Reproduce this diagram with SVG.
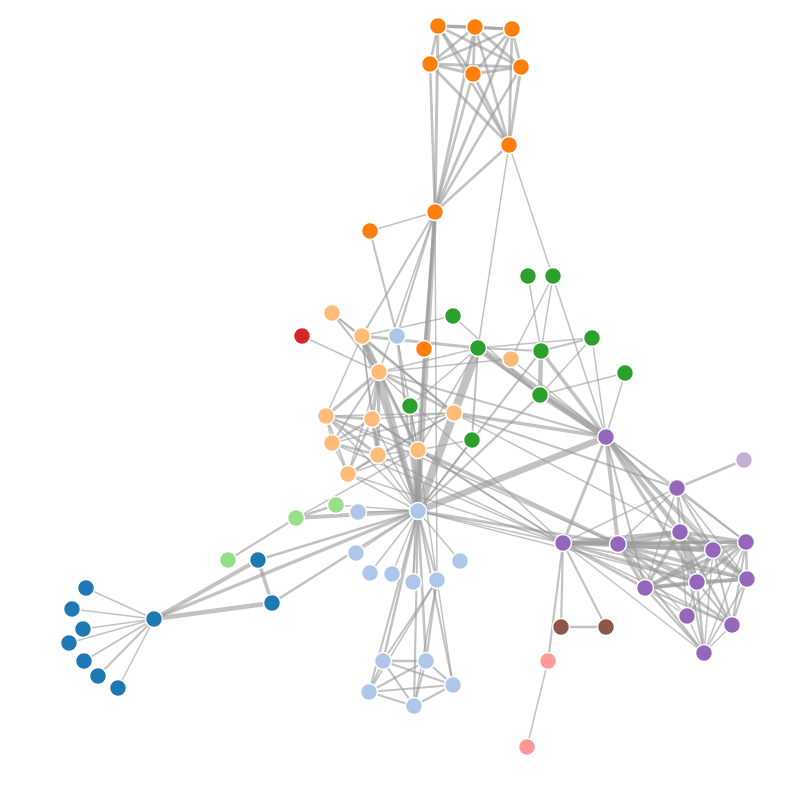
<svg xmlns="http://www.w3.org/2000/svg" width="800" height="800" viewBox="0 0 800 800">
<style>
#links line{stroke:#999;stroke-opacity:.6;stroke-linecap:butt}
.e1{stroke-width:1.5}.e2{stroke-width:2.12}.e3{stroke-width:2.6}.e4{stroke-width:3}.e5{stroke-width:3.35}.e6{stroke-width:3.67}.e7{stroke-width:3.97}.e8{stroke-width:4.24}.e9{stroke-width:4.5}.e10{stroke-width:4.74}.e12{stroke-width:5.2}.e13{stroke-width:5.41}.e15{stroke-width:5.81}.e17{stroke-width:6.18}.e19{stroke-width:6.54}.e21{stroke-width:6.87}.e31{stroke-width:8.35}
#nodes circle{stroke:#fff;stroke-width:1.5}
.g0{fill:#98df8a}.g1{fill:#1f77b4}.g2{fill:#aec7e8}.g3{fill:#ff7f0e}.g4{fill:#ffbb78}.g5{fill:#2ca02c}.g6{fill:#d62728}.g7{fill:#ff9896}.g8{fill:#9467bd}.g9{fill:#c5b0d5}.g10{fill:#8c564b}
</style>
<rect width="800" height="800" fill="#fff"/>
<g id="links">
<line class="e1" x1="86" y1="588" x2="154" y2="619"/>
<line class="e8" x1="258" y1="560" x2="154" y2="619"/>
<line class="e10" x1="272" y1="603" x2="154" y2="619"/>
<line class="e6" x1="272" y1="603" x2="258" y2="560"/>
<line class="e1" x1="72" y1="609" x2="154" y2="619"/>
<line class="e1" x1="83" y1="629" x2="154" y2="619"/>
<line class="e1" x1="69" y1="643" x2="154" y2="619"/>
<line class="e1" x1="84" y1="661" x2="154" y2="619"/>
<line class="e2" x1="98" y1="676" x2="154" y2="619"/>
<line class="e1" x1="118" y1="688" x2="154" y2="619"/>
<line class="e1" x1="418" y1="511" x2="358" y2="512"/>
<line class="e3" x1="418" y1="511" x2="272" y2="603"/>
<line class="e3" x1="418" y1="511" x2="258" y2="560"/>
<line class="e5" x1="418" y1="511" x2="154" y2="619"/>
<line class="e1" x1="424" y1="349" x2="418" y2="511"/>
<line class="e1" x1="356" y1="553" x2="418" y2="511"/>
<line class="e1" x1="370" y1="573" x2="418" y2="511"/>
<line class="e1" x1="392" y1="574" x2="418" y2="511"/>
<line class="e4" x1="430" y1="64" x2="509" y2="145"/>
<line class="e4" x1="473" y1="74" x2="509" y2="145"/>
<line class="e4" x1="473" y1="74" x2="430" y2="64"/>
<line class="e4" x1="521" y1="67" x2="509" y2="145"/>
<line class="e4" x1="521" y1="67" x2="430" y2="64"/>
<line class="e4" x1="521" y1="67" x2="473" y2="74"/>
<line class="e3" x1="475" y1="27" x2="509" y2="145"/>
<line class="e3" x1="475" y1="27" x2="430" y2="64"/>
<line class="e3" x1="475" y1="27" x2="473" y2="74"/>
<line class="e4" x1="475" y1="27" x2="521" y2="67"/>
<line class="e3" x1="438" y1="26" x2="430" y2="64"/>
<line class="e3" x1="438" y1="26" x2="473" y2="74"/>
<line class="e3" x1="438" y1="26" x2="521" y2="67"/>
<line class="e5" x1="438" y1="26" x2="475" y2="27"/>
<line class="e3" x1="438" y1="26" x2="509" y2="145"/>
<line class="e3" x1="512" y1="29" x2="430" y2="64"/>
<line class="e3" x1="512" y1="29" x2="473" y2="74"/>
<line class="e3" x1="512" y1="29" x2="521" y2="67"/>
<line class="e4" x1="512" y1="29" x2="475" y2="27"/>
<line class="e4" x1="512" y1="29" x2="438" y2="26"/>
<line class="e3" x1="512" y1="29" x2="509" y2="145"/>
<line class="e3" x1="435" y1="212" x2="430" y2="64"/>
<line class="e3" x1="435" y1="212" x2="473" y2="74"/>
<line class="e3" x1="435" y1="212" x2="521" y2="67"/>
<line class="e4" x1="435" y1="212" x2="475" y2="27"/>
<line class="e4" x1="435" y1="212" x2="438" y2="26"/>
<line class="e4" x1="435" y1="212" x2="512" y2="29"/>
<line class="e2" x1="435" y1="212" x2="424" y2="349"/>
<line class="e3" x1="435" y1="212" x2="509" y2="145"/>
<line class="e9" x1="435" y1="212" x2="418" y2="511"/>
<line class="e2" x1="362" y1="336" x2="435" y2="212"/>
<line class="e7" x1="362" y1="336" x2="418" y2="511"/>
<line class="e13" x1="379" y1="372" x2="362" y2="336"/>
<line class="e1" x1="379" y1="372" x2="435" y2="212"/>
<line class="e12" x1="379" y1="372" x2="418" y2="511"/>
<line class="e4" x1="478" y1="348" x2="362" y2="336"/>
<line class="e31" x1="478" y1="348" x2="418" y2="511"/>
<line class="e1" x1="478" y1="348" x2="509" y2="145"/>
<line class="e1" x1="478" y1="348" x2="379" y2="372"/>
<line class="e17" x1="418" y1="450" x2="418" y2="511"/>
<line class="e5" x1="418" y1="450" x2="435" y2="212"/>
<line class="e5" x1="418" y1="450" x2="379" y2="372"/>
<line class="e1" x1="418" y1="450" x2="362" y2="336"/>
<line class="e1" x1="418" y1="450" x2="478" y2="348"/>
<line class="e8" x1="296" y1="518" x2="418" y2="511"/>
<line class="e1" x1="296" y1="518" x2="418" y2="450"/>
<line class="e1" x1="437" y1="580" x2="435" y2="212"/>
<line class="e1" x1="437" y1="580" x2="418" y2="450"/>
<line class="e2" x1="437" y1="580" x2="418" y2="511"/>
<line class="e1" x1="370" y1="231" x2="435" y2="212"/>
<line class="e2" x1="397" y1="336" x2="370" y2="231"/>
<line class="e3" x1="397" y1="336" x2="418" y2="511"/>
<line class="e2" x1="397" y1="336" x2="435" y2="212"/>
<line class="e1" x1="397" y1="336" x2="418" y2="450"/>
<line class="e1" x1="460" y1="561" x2="418" y2="511"/>
<line class="e2" x1="413" y1="582" x2="418" y2="511"/>
<line class="e1" x1="413" y1="582" x2="418" y2="450"/>
<line class="e3" x1="383" y1="661" x2="418" y2="511"/>
<line class="e2" x1="383" y1="661" x2="437" y2="580"/>
<line class="e3" x1="426" y1="661" x2="418" y2="511"/>
<line class="e3" x1="426" y1="661" x2="383" y2="661"/>
<line class="e2" x1="426" y1="661" x2="437" y2="580"/>
<line class="e2" x1="453" y1="685" x2="383" y2="661"/>
<line class="e2" x1="453" y1="685" x2="426" y2="661"/>
<line class="e2" x1="453" y1="685" x2="418" y2="511"/>
<line class="e1" x1="453" y1="685" x2="437" y2="580"/>
<line class="e2" x1="369" y1="692" x2="383" y2="661"/>
<line class="e2" x1="369" y1="692" x2="426" y2="661"/>
<line class="e2" x1="369" y1="692" x2="453" y2="685"/>
<line class="e2" x1="369" y1="692" x2="418" y2="511"/>
<line class="e1" x1="369" y1="692" x2="437" y2="580"/>
<line class="e2" x1="414" y1="706" x2="383" y2="661"/>
<line class="e2" x1="414" y1="706" x2="426" y2="661"/>
<line class="e2" x1="414" y1="706" x2="453" y2="685"/>
<line class="e2" x1="414" y1="706" x2="369" y2="692"/>
<line class="e2" x1="414" y1="706" x2="418" y2="511"/>
<line class="e1" x1="414" y1="706" x2="437" y2="580"/>
<line class="e1" x1="511" y1="359" x2="379" y2="372"/>
<line class="e1" x1="302" y1="336" x2="379" y2="372"/>
<line class="e2" x1="454" y1="413" x2="362" y2="336"/>
<line class="e3" x1="454" y1="413" x2="379" y2="372"/>
<line class="e2" x1="332" y1="313" x2="454" y2="413"/>
<line class="e2" x1="332" y1="313" x2="379" y2="372"/>
<line class="e1" x1="332" y1="313" x2="362" y2="336"/>
<line class="e3" x1="410" y1="406" x2="418" y2="511"/>
<line class="e1" x1="410" y1="406" x2="478" y2="348"/>
<line class="e1" x1="410" y1="406" x2="418" y2="450"/>
<line class="e3" x1="336" y1="505" x2="296" y2="518"/>
<line class="e1" x1="336" y1="505" x2="418" y2="511"/>
<line class="e2" x1="228" y1="560" x2="296" y2="518"/>
<line class="e1" x1="548" y1="661" x2="527" y2="747"/>
<line class="e2" x1="563" y1="543" x2="548" y2="661"/>
<line class="e1" x1="563" y1="543" x2="379" y2="372"/>
<line class="e1" x1="563" y1="543" x2="418" y2="450"/>
<line class="e1" x1="563" y1="543" x2="418" y2="511"/>
<line class="e3" x1="540" y1="395" x2="478" y2="348"/>
<line class="e2" x1="540" y1="395" x2="418" y2="511"/>
<line class="e1" x1="453" y1="316" x2="540" y2="395"/>
<line class="e1" x1="453" y1="316" x2="362" y2="336"/>
<line class="e9" x1="541" y1="351" x2="540" y2="395"/>
<line class="e2" x1="541" y1="351" x2="478" y2="348"/>
<line class="e2" x1="541" y1="351" x2="418" y2="511"/>
<line class="e1" x1="553" y1="276" x2="541" y2="351"/>
<line class="e1" x1="553" y1="276" x2="511" y2="359"/>
<line class="e1" x1="528" y1="276" x2="541" y2="351"/>
<line class="e2" x1="592" y1="338" x2="541" y2="351"/>
<line class="e1" x1="592" y1="338" x2="540" y2="395"/>
<line class="e1" x1="592" y1="338" x2="478" y2="348"/>
<line class="e6" x1="606" y1="437" x2="541" y2="351"/>
<line class="e12" x1="606" y1="437" x2="540" y2="395"/>
<line class="e1" x1="606" y1="437" x2="511" y2="359"/>
<line class="e1" x1="606" y1="437" x2="592" y2="338"/>
<line class="e21" x1="606" y1="437" x2="478" y2="348"/>
<line class="e19" x1="606" y1="437" x2="418" y2="511"/>
<line class="e1" x1="606" y1="437" x2="509" y2="145"/>
<line class="e2" x1="606" y1="437" x2="379" y2="372"/>
<line class="e5" x1="606" y1="437" x2="454" y2="413"/>
<line class="e4" x1="606" y1="437" x2="563" y2="543"/>
<line class="e1" x1="625" y1="373" x2="540" y2="395"/>
<line class="e1" x1="625" y1="373" x2="606" y2="437"/>
<line class="e1" x1="677" y1="488" x2="606" y2="437"/>
<line class="e2" x1="677" y1="488" x2="454" y2="413"/>
<line class="e1" x1="677" y1="488" x2="563" y2="543"/>
<line class="e7" x1="618" y1="544" x2="606" y2="437"/>
<line class="e7" x1="618" y1="544" x2="563" y2="543"/>
<line class="e6" x1="618" y1="544" x2="418" y2="450"/>
<line class="e1" x1="618" y1="544" x2="677" y2="488"/>
<line class="e4" x1="618" y1="544" x2="418" y2="511"/>
<line class="e15" x1="713" y1="550" x2="618" y2="544"/>
<line class="e5" x1="713" y1="550" x2="606" y2="437"/>
<line class="e6" x1="713" y1="550" x2="563" y2="543"/>
<line class="e2" x1="713" y1="550" x2="677" y2="488"/>
<line class="e1" x1="732" y1="625" x2="563" y2="543"/>
<line class="e4" x1="732" y1="625" x2="618" y2="544"/>
<line class="e2" x1="732" y1="625" x2="713" y2="550"/>
<line class="e2" x1="747" y1="579" x2="563" y2="543"/>
<line class="e6" x1="747" y1="579" x2="618" y2="544"/>
<line class="e2" x1="747" y1="579" x2="732" y2="625"/>
<line class="e5" x1="747" y1="579" x2="713" y2="550"/>
<line class="e1" x1="747" y1="579" x2="677" y2="488"/>
<line class="e1" x1="747" y1="579" x2="606" y2="437"/>
<line class="e9" x1="680" y1="532" x2="606" y2="437"/>
<line class="e17" x1="680" y1="532" x2="618" y2="544"/>
<line class="e13" x1="680" y1="532" x2="713" y2="550"/>
<line class="e7" x1="680" y1="532" x2="563" y2="543"/>
<line class="e2" x1="680" y1="532" x2="677" y2="488"/>
<line class="e1" x1="680" y1="532" x2="454" y2="413"/>
<line class="e6" x1="680" y1="532" x2="747" y2="579"/>
<line class="e3" x1="680" y1="532" x2="732" y2="625"/>
<line class="e5" x1="746" y1="542" x2="713" y2="550"/>
<line class="e5" x1="746" y1="542" x2="563" y2="543"/>
<line class="e6" x1="746" y1="542" x2="680" y2="532"/>
<line class="e2" x1="746" y1="542" x2="677" y2="488"/>
<line class="e4" x1="746" y1="542" x2="618" y2="544"/>
<line class="e3" x1="746" y1="542" x2="747" y2="579"/>
<line class="e2" x1="746" y1="542" x2="732" y2="625"/>
<line class="e1" x1="746" y1="542" x2="606" y2="437"/>
<line class="e5" x1="697" y1="582" x2="606" y2="437"/>
<line class="e12" x1="697" y1="582" x2="680" y2="532"/>
<line class="e5" x1="697" y1="582" x2="563" y2="543"/>
<line class="e4" x1="697" y1="582" x2="746" y2="542"/>
<line class="e10" x1="697" y1="582" x2="618" y2="544"/>
<line class="e6" x1="697" y1="582" x2="747" y2="579"/>
<line class="e2" x1="697" y1="582" x2="732" y2="625"/>
<line class="e9" x1="697" y1="582" x2="713" y2="550"/>
<line class="e1" x1="697" y1="582" x2="677" y2="488"/>
<line class="e1" x1="697" y1="582" x2="418" y2="511"/>
<line class="e5" x1="645" y1="588" x2="746" y2="542"/>
<line class="e7" x1="645" y1="588" x2="697" y2="582"/>
<line class="e3" x1="645" y1="588" x2="563" y2="543"/>
<line class="e5" x1="645" y1="588" x2="680" y2="532"/>
<line class="e5" x1="645" y1="588" x2="618" y2="544"/>
<line class="e5" x1="645" y1="588" x2="747" y2="579"/>
<line class="e2" x1="645" y1="588" x2="732" y2="625"/>
<line class="e5" x1="645" y1="588" x2="713" y2="550"/>
<line class="e1" x1="645" y1="588" x2="677" y2="488"/>
<line class="e2" x1="645" y1="588" x2="606" y2="437"/>
<line class="e3" x1="704" y1="653" x2="697" y2="582"/>
<line class="e3" x1="704" y1="653" x2="618" y2="544"/>
<line class="e1" x1="704" y1="653" x2="713" y2="550"/>
<line class="e2" x1="704" y1="653" x2="680" y2="532"/>
<line class="e2" x1="704" y1="653" x2="645" y2="588"/>
<line class="e1" x1="704" y1="653" x2="563" y2="543"/>
<line class="e1" x1="704" y1="653" x2="746" y2="542"/>
<line class="e1" x1="704" y1="653" x2="747" y2="579"/>
<line class="e1" x1="704" y1="653" x2="732" y2="625"/>
<line class="e3" x1="744" y1="460" x2="677" y2="488"/>
<line class="e5" x1="378" y1="455" x2="379" y2="372"/>
<line class="e1" x1="378" y1="455" x2="418" y2="511"/>
<line class="e1" x1="378" y1="455" x2="362" y2="336"/>
<line class="e1" x1="378" y1="455" x2="418" y2="450"/>
<line class="e1" x1="378" y1="455" x2="563" y2="543"/>
<line class="e1" x1="378" y1="455" x2="454" y2="413"/>
<line class="e6" x1="372" y1="419" x2="379" y2="372"/>
<line class="e6" x1="372" y1="419" x2="378" y2="455"/>
<line class="e1" x1="372" y1="419" x2="418" y2="511"/>
<line class="e1" x1="372" y1="419" x2="362" y2="336"/>
<line class="e2" x1="372" y1="419" x2="418" y2="450"/>
<line class="e1" x1="372" y1="419" x2="563" y2="543"/>
<line class="e1" x1="372" y1="419" x2="454" y2="413"/>
<line class="e4" x1="326" y1="416" x2="379" y2="372"/>
<line class="e4" x1="326" y1="416" x2="372" y2="419"/>
<line class="e4" x1="326" y1="416" x2="378" y2="455"/>
<line class="e1" x1="326" y1="416" x2="418" y2="511"/>
<line class="e1" x1="326" y1="416" x2="362" y2="336"/>
<line class="e1" x1="326" y1="416" x2="418" y2="450"/>
<line class="e1" x1="326" y1="416" x2="454" y2="413"/>
<line class="e1" x1="326" y1="416" x2="618" y2="544"/>
<line class="e1" x1="348" y1="474" x2="418" y2="450"/>
<line class="e2" x1="348" y1="474" x2="372" y2="419"/>
<line class="e2" x1="348" y1="474" x2="378" y2="455"/>
<line class="e2" x1="348" y1="474" x2="326" y2="416"/>
<line class="e1" x1="348" y1="474" x2="418" y2="511"/>
<line class="e1" x1="348" y1="474" x2="563" y2="543"/>
<line class="e1" x1="348" y1="474" x2="379" y2="372"/>
<line class="e1" x1="348" y1="474" x2="454" y2="413"/>
<line class="e2" x1="472" y1="440" x2="478" y2="348"/>
<line class="e1" x1="472" y1="440" x2="418" y2="450"/>
<line class="e1" x1="472" y1="440" x2="418" y2="511"/>
<line class="e2" x1="561" y1="627" x2="563" y2="543"/>
<line class="e2" x1="606" y1="627" x2="563" y2="543"/>
<line class="e3" x1="606" y1="627" x2="561" y2="627"/>
<line class="e3" x1="332" y1="443" x2="372" y2="419"/>
<line class="e3" x1="332" y1="443" x2="378" y2="455"/>
<line class="e2" x1="332" y1="443" x2="379" y2="372"/>
<line class="e1" x1="332" y1="443" x2="563" y2="543"/>
<line class="e1" x1="332" y1="443" x2="454" y2="413"/>
<line class="e1" x1="332" y1="443" x2="326" y2="416"/>
<line class="e1" x1="332" y1="443" x2="348" y2="474"/>
<line class="e1" x1="687" y1="616" x2="697" y2="582"/>
<line class="e1" x1="687" y1="616" x2="645" y2="588"/>
<line class="e1" x1="687" y1="616" x2="704" y2="653"/>
<line class="e1" x1="687" y1="616" x2="746" y2="542"/>
<line class="e1" x1="687" y1="616" x2="680" y2="532"/>
<line class="e1" x1="687" y1="616" x2="618" y2="544"/>
</g>
<g id="nodes">
<g id="Myriel"><circle class="g1" cx="154" cy="619" r="8.5"/></g>
<g id="Napoleon"><circle class="g1" cx="86" cy="588" r="8.5"/></g>
<g id="Mlle-Baptistine"><circle class="g1" cx="258" cy="560" r="8.5"/></g>
<g id="Mme-Magloire"><circle class="g1" cx="272" cy="603" r="8.5"/></g>
<g id="CountessdeLo"><circle class="g1" cx="72" cy="609" r="8.5"/></g>
<g id="Geborand"><circle class="g1" cx="83" cy="629" r="8.5"/></g>
<g id="Champtercier"><circle class="g1" cx="69" cy="643" r="8.5"/></g>
<g id="Cravatte"><circle class="g1" cx="84" cy="661" r="8.5"/></g>
<g id="Count"><circle class="g1" cx="98" cy="676" r="8.5"/></g>
<g id="OldMan"><circle class="g1" cx="118" cy="688" r="8.5"/></g>
<g id="Labarre"><circle class="g2" cx="358" cy="512" r="8.5"/></g>
<g id="Valjean"><circle class="g2" cx="418" cy="511" r="8.5"/></g>
<g id="Marguerite"><circle class="g3" cx="424" cy="349" r="8.5"/></g>
<g id="Mme-deR"><circle class="g2" cx="356" cy="553" r="8.5"/></g>
<g id="Isabeau"><circle class="g2" cx="370" cy="573" r="8.5"/></g>
<g id="Gervais"><circle class="g2" cx="392" cy="574" r="8.5"/></g>
<g id="Tholomyes"><circle class="g3" cx="509" cy="145" r="8.5"/></g>
<g id="Listolier"><circle class="g3" cx="430" cy="64" r="8.5"/></g>
<g id="Fameuil"><circle class="g3" cx="473" cy="74" r="8.5"/></g>
<g id="Blacheville"><circle class="g3" cx="521" cy="67" r="8.5"/></g>
<g id="Favourite"><circle class="g3" cx="475" cy="27" r="8.5"/></g>
<g id="Dahlia"><circle class="g3" cx="438" cy="26" r="8.5"/></g>
<g id="Zephine"><circle class="g3" cx="512" cy="29" r="8.5"/></g>
<g id="Fantine"><circle class="g3" cx="435" cy="212" r="8.5"/></g>
<g id="Mme-Thenardier"><circle class="g4" cx="362" cy="336" r="8.5"/></g>
<g id="Thenardier"><circle class="g4" cx="379" cy="372" r="8.5"/></g>
<g id="Cosette"><circle class="g5" cx="478" cy="348" r="8.5"/></g>
<g id="Javert"><circle class="g4" cx="418" cy="450" r="8.5"/></g>
<g id="Fauchelevent"><circle class="g0" cx="296" cy="518" r="8.5"/></g>
<g id="Bamatabois"><circle class="g2" cx="437" cy="580" r="8.5"/></g>
<g id="Perpetue"><circle class="g3" cx="370" cy="231" r="8.5"/></g>
<g id="Simplice"><circle class="g2" cx="397" cy="336" r="8.5"/></g>
<g id="Scaufflaire"><circle class="g2" cx="460" cy="561" r="8.5"/></g>
<g id="Woman1"><circle class="g2" cx="413" cy="582" r="8.5"/></g>
<g id="Judge"><circle class="g2" cx="383" cy="661" r="8.5"/></g>
<g id="Champmathieu"><circle class="g2" cx="426" cy="661" r="8.5"/></g>
<g id="Brevet"><circle class="g2" cx="453" cy="685" r="8.5"/></g>
<g id="Chenildieu"><circle class="g2" cx="369" cy="692" r="8.5"/></g>
<g id="Cochepaille"><circle class="g2" cx="414" cy="706" r="8.5"/></g>
<g id="Pontmercy"><circle class="g4" cx="511" cy="359" r="8.5"/></g>
<g id="Boulatruelle"><circle class="g6" cx="302" cy="336" r="8.5"/></g>
<g id="Eponine"><circle class="g4" cx="454" cy="413" r="8.5"/></g>
<g id="Anzelma"><circle class="g4" cx="332" cy="313" r="8.5"/></g>
<g id="Woman2"><circle class="g5" cx="410" cy="406" r="8.5"/></g>
<g id="MotherInnocent"><circle class="g0" cx="336" cy="505" r="8.5"/></g>
<g id="Gribier"><circle class="g0" cx="228" cy="560" r="8.5"/></g>
<g id="Jondrette"><circle class="g7" cx="527" cy="747" r="8.5"/></g>
<g id="Mme-Burgon"><circle class="g7" cx="548" cy="661" r="8.5"/></g>
<g id="Gavroche"><circle class="g8" cx="563" cy="543" r="8.5"/></g>
<g id="Gillenormand"><circle class="g5" cx="540" cy="395" r="8.5"/></g>
<g id="Magnon"><circle class="g5" cx="453" cy="316" r="8.5"/></g>
<g id="Mlle-Gillenormand"><circle class="g5" cx="541" cy="351" r="8.5"/></g>
<g id="Mme-Pontmercy"><circle class="g5" cx="553" cy="276" r="8.5"/></g>
<g id="Mlle-Vaubois"><circle class="g5" cx="528" cy="276" r="8.5"/></g>
<g id="Lt-Gillenormand"><circle class="g5" cx="592" cy="338" r="8.5"/></g>
<g id="Marius"><circle class="g8" cx="606" cy="437" r="8.5"/></g>
<g id="BaronessT"><circle class="g5" cx="625" cy="373" r="8.5"/></g>
<g id="Mabeuf"><circle class="g8" cx="677" cy="488" r="8.5"/></g>
<g id="Enjolras"><circle class="g8" cx="618" cy="544" r="8.5"/></g>
<g id="Combeferre"><circle class="g8" cx="713" cy="550" r="8.5"/></g>
<g id="Prouvaire"><circle class="g8" cx="732" cy="625" r="8.5"/></g>
<g id="Feuilly"><circle class="g8" cx="747" cy="579" r="8.5"/></g>
<g id="Courfeyrac"><circle class="g8" cx="680" cy="532" r="8.5"/></g>
<g id="Bahorel"><circle class="g8" cx="746" cy="542" r="8.5"/></g>
<g id="Bossuet"><circle class="g8" cx="697" cy="582" r="8.5"/></g>
<g id="Joly"><circle class="g8" cx="645" cy="588" r="8.5"/></g>
<g id="Grantaire"><circle class="g8" cx="704" cy="653" r="8.5"/></g>
<g id="MotherPlutarch"><circle class="g9" cx="744" cy="460" r="8.5"/></g>
<g id="Gueulemer"><circle class="g4" cx="378" cy="455" r="8.5"/></g>
<g id="Babet"><circle class="g4" cx="372" cy="419" r="8.5"/></g>
<g id="Claquesous"><circle class="g4" cx="326" cy="416" r="8.5"/></g>
<g id="Montparnasse"><circle class="g4" cx="348" cy="474" r="8.5"/></g>
<g id="Toussaint"><circle class="g5" cx="472" cy="440" r="8.5"/></g>
<g id="Child1"><circle class="g10" cx="561" cy="627" r="8.5"/></g>
<g id="Child2"><circle class="g10" cx="606" cy="627" r="8.5"/></g>
<g id="Brujon"><circle class="g4" cx="332" cy="443" r="8.5"/></g>
<g id="Mme-Hucheloup"><circle class="g8" cx="687" cy="616" r="8.5"/></g>
</g>
</svg>
